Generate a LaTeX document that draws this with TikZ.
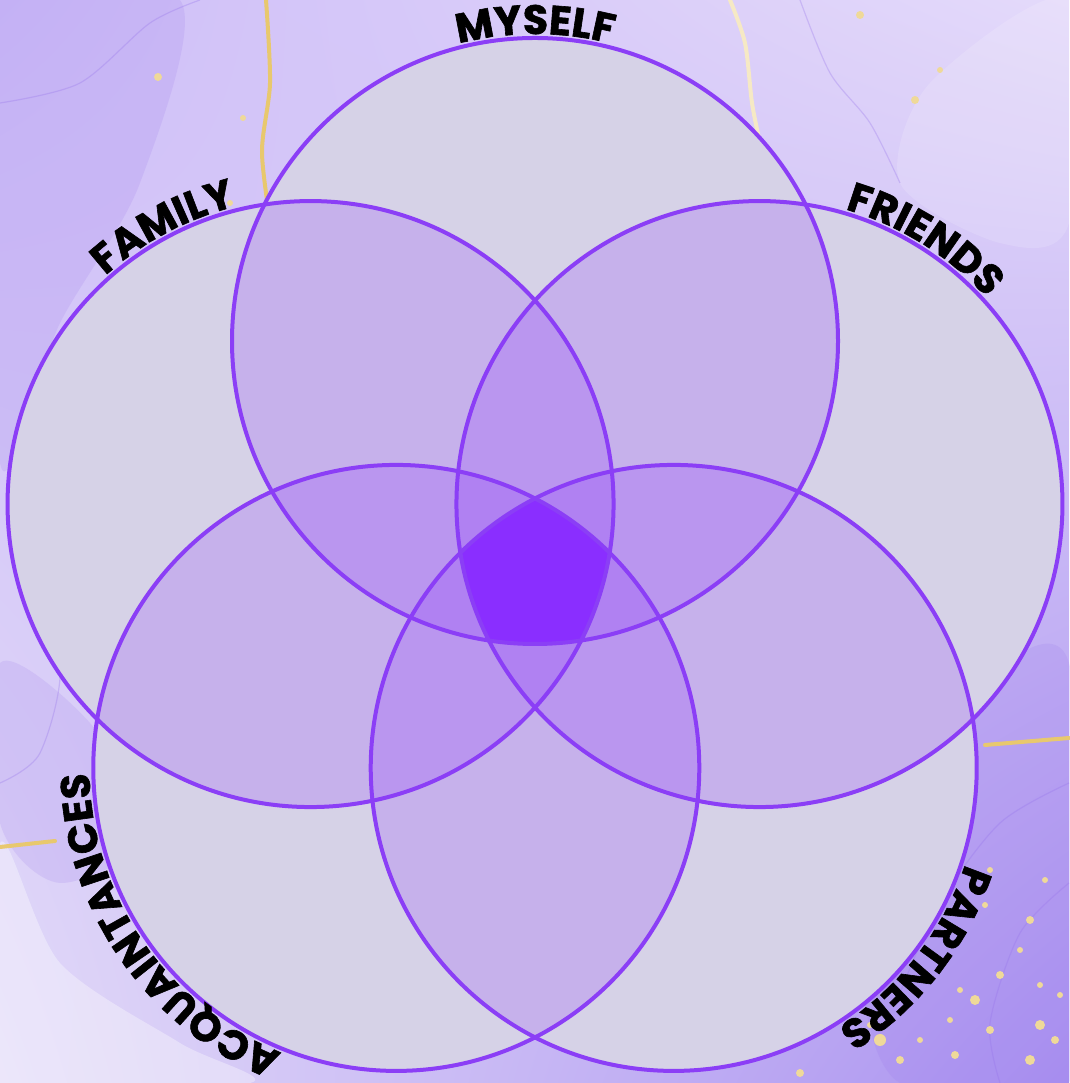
\documentclass[tikz,border=0pt]{standalone}
\usepackage{fontspec}
\usetikzlibrary{calc,decorations.text,shadings}
\newfontfamily\lblfont{Poppins}[BoldFeatures={FakeBold=1.5}]
\definecolor{vennbase}{RGB}{233,252,226}
\definecolor{vennpurple}{RGB}{138,46,255}
\definecolor{vennline}{RGB}{139,62,246}
\definecolor{venncore}{RGB}{138,46,255}
\definecolor{marblea}{RGB}{206,190,248}
\definecolor{marbleb}{RGB}{228,218,250}
\definecolor{marblec}{RGB}{226,218,248}
\definecolor{marbled}{RGB}{170,146,240}
\definecolor{vein}{RGB}{150,115,235}
\definecolor{gold}{RGB}{232,200,110}
\newcommand{\vennr}{303}
\tikzset{
    vennfill/.style={fill=vennbase},
    vennlayer/.style={fill=vennpurple,fill opacity=0.2},
    vennedge/.style={draw=vennline,line width=4pt},
    vennlabel/.style={decorate,decoration={text along path,text align=center,
        text={|\lblfont\bfseries\fontsize{41}{41}\selectfont|#1}}},
    marble/.style={fill=vein,fill opacity=0.16},
    veinline/.style={draw=vein,draw opacity=0.3,line width=1.2pt},
    goldline/.style={draw=gold,line width=4pt,line cap=round},
    golddot/.style={fill=gold!70!white}
}
\begin{document}
\begin{tikzpicture}[x=1pt,y=1pt]
\useasboundingbox (0,0) rectangle (1069,1083);
% background
\shade[upper left=marblea,upper right=marbleb,lower left=marblec,lower right=marbled]
    (0,0) rectangle (1069,1083);
\fill[marble] plot[smooth cycle] coordinates {(0,1083) (180,1083) (140,900) (60,760) (0,620)};
\fill[marble] plot[smooth cycle] coordinates {(1069,420) (960,380) (880,250) (860,120) (900,0) (1069,0)};
\fill[marble] plot[smooth cycle] coordinates {(0,420) (90,360) (150,250) (60,200) (0,260)};
\fill[white,fill opacity=0.35] plot[smooth cycle] coordinates {(0,240) (60,120) (180,40) (250,0) (0,0)};
\fill[white,fill opacity=0.15] plot[smooth cycle] coordinates {(1069,1083) (930,1000) (900,900) (1000,840) (1069,860)};
\draw[veinline] plot[smooth] coordinates {(0,980) (80,1000) (150,1060) (200,1083)};
\draw[veinline] plot[smooth] coordinates {(0,300) (40,330) (60,420) (20,520)};
\draw[veinline] plot[smooth] coordinates {(1069,300) (1000,260) (940,180) (900,90)};
\draw[veinline] plot[smooth] coordinates {(1069,200) (1020,150) (990,60) (1000,0)};
\draw[veinline] plot[smooth] coordinates {(800,1083) (830,1010) (870,960) (900,900)};
\draw[goldline] plot[smooth] coordinates {(266,1083) (270,1000) (262,930) (272,850)};
\draw[goldline,draw=gold!40!white] plot[smooth] coordinates {(730,1083) (745,1040) (752,980) (760,940)};
\draw[goldline] (985,338) -- (1069,345);
\draw[goldline] (0,236) -- (55,242);
\foreach \p/\s in {(158,1006)/4,(243,965)/3,(230,880)/3,(915,983)/4,(940,1013)/3,(860,1068)/4,
    (1040,58)/5,(1055,43)/4,(1000,108)/4,(1060,88)/3,(975,83)/5,(990,53)/4,(1030,23)/5,
    (900,23)/4,(920,43)/3,(955,28)/4,(880,43)/6,(870,58)/3,(950,63)/3,(1040,98)/3,
    (1020,133)/3,(990,213)/3,(985,178)/3,(1045,203)/3,(1030,163)/4,(960,93)/3,(800,10)/4}
    \fill[golddot] \p circle[radius=\s];
% circles
\coordinate (hub) at (535,506);
\coordinate (myself) at ($(hub)+(90:236)$);
\coordinate (family) at ($(hub)+(162:236)$);
\coordinate (acquaint) at ($(hub)+(234:236)$);
\coordinate (partners) at ($(hub)+(306:236)$);
\coordinate (friends) at ($(hub)+(18:236)$);
\foreach \c in {myself,family,acquaint,partners,friends}
    \fill[vennfill] (\c) circle[radius=\vennr];
\foreach \c in {myself,family,acquaint,partners,friends}
    \fill[vennlayer] (\c) circle[radius=\vennr];
\begin{scope}
    \clip (myself) circle[radius=\vennr];
    \clip (family) circle[radius=\vennr];
    \clip (acquaint) circle[radius=\vennr];
    \clip (partners) circle[radius=\vennr];
    \fill[venncore] (friends) circle[radius=\vennr];
\end{scope}
\foreach \c in {myself,family,acquaint,partners,friends}
    \draw[vennedge] (\c) circle[radius=\vennr];
% labels
\path[vennlabel=MYSELF] ($(myself)+(115:307)$) arc[start angle=115,end angle=65,radius=307];
\path[vennlabel=FAMILY] ($(family)+(143:307)$) arc[start angle=143,end angle=93,radius=307];
\path[vennlabel=FRIENDS] ($(friends)+(86:307)$) arc[start angle=86,end angle=30,radius=307];
\path[vennlabel=PARTNERS] ($(partners)+(-6:307)$) arc[start angle=-6,end angle=-70,radius=307];
\path[vennlabel=ACQUAINTANCES] ($(acquaint)+(264:307)$) arc[start angle=264,end angle=165,radius=307];
\end{tikzpicture}
\end{document}
